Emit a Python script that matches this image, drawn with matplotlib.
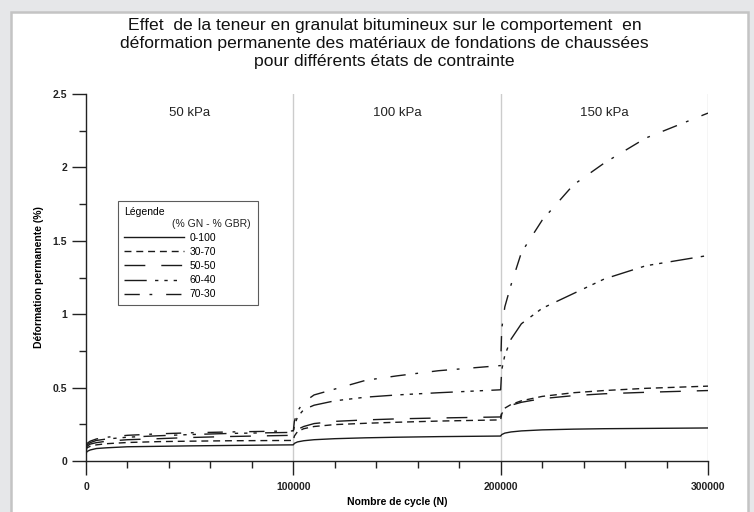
import matplotlib
matplotlib.use("Agg")
import matplotlib.pyplot as plt
import matplotlib.patches as mpatches
import numpy as np
from matplotlib.ticker import MultipleLocator

plt.rcParams['font.family'] = ['Liberation Sans', 'DejaVu Sans']

# number of cycles (three loading stages of 100000 cycles)
N = [0, 500, 2000, 5000, 10000, 20000, 35000, 50000, 70000, 99900,
     100000, 100500, 102000, 105000, 110000, 120000, 135000, 150000, 170000, 199900,
     200000, 200500, 202000, 205000, 210000, 220000, 235000, 250000, 270000, 300000]

# permanent deformation (%) for each mix (% GN - % GBR)
d_0_100 = [0.05, 0.065, 0.075, 0.085, 0.09, 0.097, 0.10, 0.103, 0.106, 0.11,
           0.11, 0.12, 0.13, 0.138, 0.145, 0.152, 0.158, 0.162, 0.166, 0.17,
           0.17, 0.18, 0.19, 0.198, 0.205, 0.212, 0.217, 0.22, 0.222, 0.225]
d_30_70 = [0.07, 0.09, 0.10, 0.11, 0.118, 0.126, 0.132, 0.135, 0.138, 0.14,
           0.14, 0.17, 0.20, 0.22, 0.235, 0.248, 0.257, 0.264, 0.272, 0.28,
           0.28, 0.32, 0.36, 0.385, 0.41, 0.44, 0.465, 0.48, 0.495, 0.51]
d_50_50 = [0.08, 0.10, 0.115, 0.125, 0.135, 0.145, 0.152, 0.16, 0.167, 0.175,
           0.175, 0.19, 0.215, 0.235, 0.255, 0.27, 0.28, 0.287, 0.293, 0.30,
           0.30, 0.33, 0.36, 0.38, 0.40, 0.425, 0.445, 0.458, 0.468, 0.48]
d_60_40 = [0.09, 0.11, 0.125, 0.14, 0.15, 0.162, 0.172, 0.18, 0.188, 0.195,
           0.195, 0.24, 0.30, 0.35, 0.38, 0.41, 0.435, 0.45, 0.465, 0.485,
           0.485, 0.62, 0.72, 0.83, 0.935, 1.04, 1.14, 1.24, 1.33, 1.40]
d_70_30 = [0.10, 0.12, 0.135, 0.15, 0.162, 0.175, 0.185, 0.192, 0.198, 0.205,
           0.205, 0.27, 0.34, 0.40, 0.45, 0.49, 0.55, 0.58, 0.615, 0.65,
           0.65, 0.90, 1.05, 1.20, 1.42, 1.64, 1.88, 2.03, 2.20, 2.37]

labels = ['0-100', '30-70', '50-50', '60-40', '70-30']
series = [d_0_100, d_30_70, d_50_50, d_60_40, d_70_30]
stages = ['50 kPa', '100 kPa', '150 kPa']
stage_x = [50000, 150000, 250000]

# dash patterns for each mix
dash_styles = ['-', (0, (5, 3.5)), (0, (15, 11.5)),
               (0, (16, 6, 2.4, 4.3, 2.4, 4.3, 2.4, 6)),
               (0, (11, 7, 2, 10))]

fig = plt.figure(figsize=(7.54, 5.12), dpi=100)
fig.patch.set_facecolor('#e6e7e9')
panel = mpatches.Rectangle((11/754, -0.1), (748-11)/754, 1.1 - 12/512,
                           transform=fig.transFigure, facecolor='white',
                           edgecolor='#c4c4c4', linewidth=1.8, zorder=-5)
fig.patches.append(panel)

ax = fig.add_axes([86/754, 51/512, 622/754, 367/512])
ax.set_facecolor('none')

for x in [100000, 200000, 300000]:
    ax.axvline(x, color='#cccccc', linewidth=1.0, zorder=1)

for vals, lab, ls in zip(series, labels, dash_styles):
    ax.plot(N, vals, linestyle=ls, color='#1a1a1a', linewidth=1.0, label=lab, zorder=3)

for txt, xs in zip(stages, stage_x):
    ax.text(xs, 2.37, txt, ha='center', va='center', fontsize=9.5, color='#222222')

ax.set_xlim(0, 300000)
ax.set_ylim(0, 2.5)
ax.xaxis.set_minor_locator(MultipleLocator(20000))
ax.yaxis.set_minor_locator(MultipleLocator(0.25))
ax.set_xticks([0, 100000, 200000, 300000])
ax.set_xticklabels(['0', '100000', '200000', '300000'])
ax.set_yticks([0, 0.5, 1, 1.5, 2, 2.5])
ax.set_yticklabels(['0', '0.5', '1', '1.5', '2', '2.5'])
ax.tick_params(which='major', length=10, width=1.0, direction='out',
               labelsize=7.5, colors='#222222')
ax.tick_params(which='minor', length=5, width=1.0, direction='out', colors='#222222')
ax.tick_params(axis='y', which='major', pad=3.5)
ax.tick_params(axis='x', which='major', pad=5)
for t in ax.get_xticklabels() + ax.get_yticklabels():
    t.set_fontweight('bold')

ax.spines['top'].set_visible(False)
ax.spines['right'].set_visible(False)
for s in ['left', 'bottom']:
    ax.spines[s].set_linewidth(1.0)
    ax.spines[s].set_color('#222222')

ax.set_xlabel('Nombre de cycle (N)', fontsize=7.5, fontweight='bold', labelpad=4)
ax.set_ylabel('Déformation permanente (%)', fontsize=7.5, fontweight='bold', labelpad=6)

# legend box stretched to the width of the reference box
leg = ax.legend(title='Légende\n ', loc='upper left',
                bbox_to_anchor=(0.0514, 0.708, 0.225, 0.0), mode='expand',
                borderaxespad=0, fontsize=7.5, title_fontsize=7.5, handlelength=5.8,
                handletextpad=0.5, labelspacing=0.4, fancybox=False,
                alignment='left', borderpad=0.55)
leg.get_frame().set_edgecolor('#333333')
leg.get_frame().set_linewidth(0.8)
leg.set_zorder(4)
ax.text(0.264, 0.645, '(% GN - % GBR)', transform=ax.transAxes, fontsize=7.5,
        ha='right', va='center', zorder=10, color='#222222')

fig.text(0.51, 0.916, 'Effet  de la teneur en granulat bitumineux sur le comportement  en\n'
         'déformation permanente des matériaux de fondations de chaussées\n'
         'pour différents états de contrainte', ha='center', va='center',
         fontsize=12.6, linespacing=1.25, color='#111111')

fig.savefig('out.png', dpi=100, facecolor=fig.get_facecolor())
